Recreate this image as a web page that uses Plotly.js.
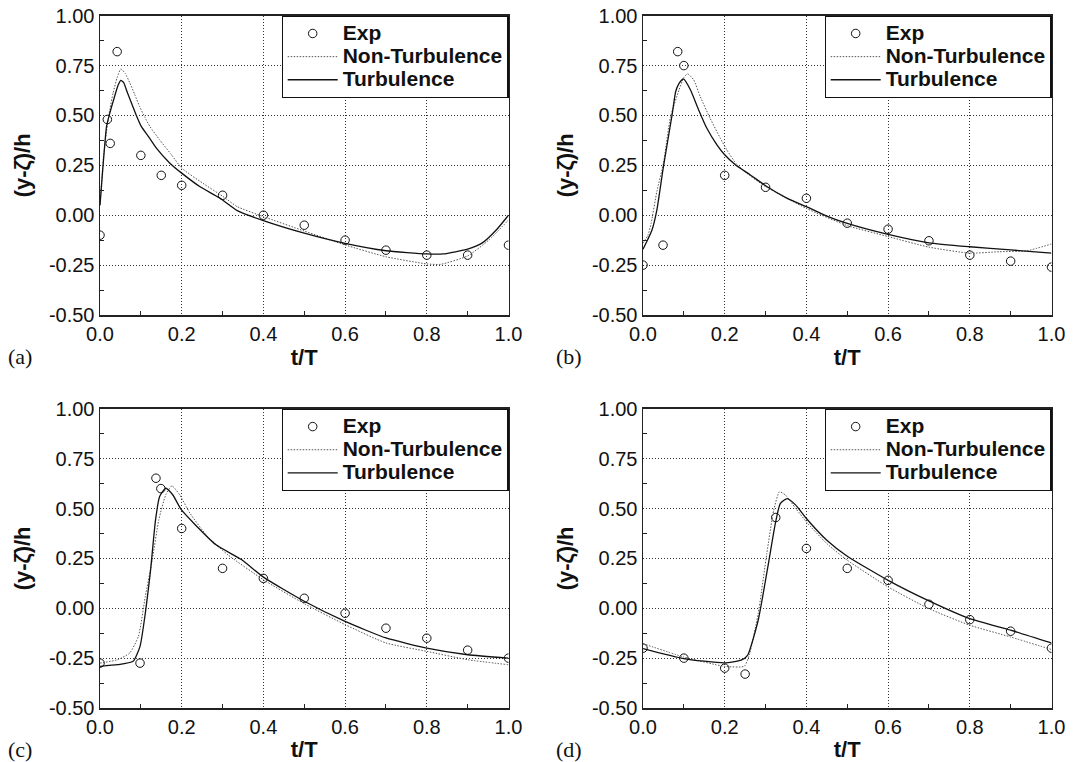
<!DOCTYPE html>
<html>
<head>
<meta charset="utf-8">
<script src="https://cdn.plot.ly/plotly-3.0.1.min.js"></script>
<style>
  html, body { margin: 0; padding: 0; background: #fff; }
  #chart { width: 1074px; height: 762px; }
</style>
</head>
<body>
<div id="chart"></div>
<script>
// ---------- data (t/T, (y - zeta_bar)/h) ----------
const seriesNames = ['Exp', 'Non-Turbulence', 'Turbulence'];
const panelLabels = ['(a)', '(b)', '(c)', '(d)'];
const xTickVals = [0, 0.2, 0.4, 0.6, 0.8, 1.0];
const xTickText = ['0.0', '0.2', '0.4', '0.6', '0.8', '1.0'];
const yTickVals = [-0.5, -0.25, 0, 0.25, 0.5, 0.75, 1.0];
const yTickText = ['-0.50', '-0.25', '0.00', '0.25', '0.50', '0.75', '1.00'];

// panel (a)
const expT_a = [0, 0.018, 0.025, 0.042, 0.1, 0.15, 0.2, 0.3, 0.4, 0.5, 0.6, 0.7, 0.8, 0.9, 1.0];
const expV_a = [-0.10, 0.48, 0.36, 0.82, 0.30, 0.20, 0.15, 0.10, 0.00, -0.05, -0.125, -0.175, -0.20, -0.20, -0.15];
const ntT_a = [0, 0.008, 0.016, 0.024, 0.032, 0.042, 0.051, 0.062, 0.073, 0.085, 0.097, 0.11, 0.122, 0.146, 0.175, 0.2, 0.252, 0.301, 0.336, 0.4, 0.5, 0.6, 0.7, 0.8, 0.834, 0.9, 0.952, 1.0];
const ntV_a = [0.05, 0.28, 0.42, 0.53, 0.612, 0.69, 0.733, 0.71, 0.663, 0.605, 0.545, 0.49, 0.445, 0.378, 0.303, 0.236, 0.16, 0.094, 0.043, -0.007, -0.079, -0.149, -0.208, -0.244, -0.246, -0.204, -0.124, -0.024];
const tuT_a = [0, 0.006, 0.016, 0.024, 0.035, 0.044, 0.051, 0.058, 0.066, 0.077, 0.089, 0.101, 0.12, 0.138, 0.171, 0.2, 0.244, 0.293, 0.336, 0.4, 0.5, 0.6, 0.7, 0.8, 0.84, 0.9, 0.935, 0.97, 1.0];
const tuV_a = [0.05, 0.21, 0.445, 0.512, 0.59, 0.65, 0.676, 0.665, 0.62, 0.562, 0.50, 0.445, 0.39, 0.336, 0.261, 0.211, 0.144, 0.086, 0.023, -0.027, -0.09, -0.141, -0.178, -0.194, -0.194, -0.17, -0.14, -0.074, 0.0];

// panel (b)
const expT_b = [0, 0.049, 0.085, 0.10, 0.2, 0.3, 0.4, 0.5, 0.6, 0.7, 0.8, 0.9, 1.0];
const expV_b = [-0.25, -0.15, 0.82, 0.75, 0.20, 0.14, 0.085, -0.04, -0.07, -0.128, -0.20, -0.23, -0.26];
const ntT_b = [0, 0.012, 0.02, 0.034, 0.05, 0.067, 0.088, 0.1, 0.109, 0.124, 0.14, 0.164, 0.189, 0.205, 0.23, 0.262, 0.303, 0.4, 0.5, 0.6, 0.7, 0.8, 0.872, 0.94, 1.0];
const ntV_b = [-0.14, -0.10, -0.04, 0.12, 0.26, 0.49, 0.627, 0.69, 0.709, 0.679, 0.595, 0.487, 0.387, 0.328, 0.253, 0.198, 0.14, 0.034, -0.052, -0.107, -0.16, -0.19, -0.183, -0.178, -0.144];
const tuT_b = [0, 0.012, 0.022, 0.034, 0.05, 0.071, 0.08, 0.088, 0.099, 0.116, 0.136, 0.156, 0.181, 0.2, 0.226, 0.262, 0.303, 0.352, 0.4, 0.45, 0.5, 0.6, 0.7, 0.8, 0.9, 1.0];
const tuV_b = [-0.17, -0.12, -0.074, 0.027, 0.244, 0.50, 0.62, 0.66, 0.683, 0.629, 0.529, 0.437, 0.353, 0.303, 0.253, 0.203, 0.144, 0.086, 0.043, -0.004, -0.041, -0.096, -0.138, -0.158, -0.174, -0.19];

// panel (c)
const expT_c = [0, 0.098, 0.137, 0.149, 0.2, 0.3, 0.4, 0.5, 0.6, 0.7, 0.8, 0.9, 1.0];
const expV_c = [-0.275, -0.275, 0.652, 0.60, 0.40, 0.20, 0.15, 0.05, -0.025, -0.10, -0.15, -0.21, -0.25];
const ntT_c = [0, 0.043, 0.073, 0.094, 0.111, 0.128, 0.144, 0.161, 0.176, 0.195, 0.22, 0.263, 0.313, 0.4, 0.5, 0.6, 0.7, 0.8, 0.9, 1.0];
const ntV_c = [-0.275, -0.258, -0.224, -0.141, 0.06, 0.243, 0.444, 0.569, 0.614, 0.569, 0.477, 0.36, 0.268, 0.143, 0.023, -0.082, -0.174, -0.216, -0.258, -0.283];
const tuT_c = [0, 0.043, 0.081, 0.098, 0.111, 0.123, 0.136, 0.146, 0.161, 0.178, 0.199, 0.233, 0.284, 0.347, 0.4, 0.5, 0.6, 0.7, 0.8, 0.9, 1.0];
const tuV_c = [-0.291, -0.283, -0.266, -0.191, -0.024, 0.176, 0.444, 0.56, 0.602, 0.569, 0.494, 0.419, 0.318, 0.243, 0.156, 0.035, -0.066, -0.149, -0.20, -0.233, -0.25];

// panel (d)
const expT_d = [0, 0.1, 0.2, 0.25, 0.325, 0.4, 0.5, 0.6, 0.7, 0.8, 0.9, 1.0];
const expV_d = [-0.20, -0.25, -0.30, -0.33, 0.455, 0.30, 0.20, 0.14, 0.02, -0.057, -0.115, -0.20];
const ntT_d = [0, 0.099, 0.199, 0.248, 0.261, 0.282, 0.303, 0.32, 0.334, 0.349, 0.374, 0.4, 0.45, 0.5, 0.6, 0.7, 0.8, 0.9, 1.0];
const ntV_d = [-0.177, -0.244, -0.291, -0.291, -0.228, -0.027, 0.274, 0.492, 0.584, 0.567, 0.50, 0.433, 0.324, 0.241, 0.107, -0.002, -0.085, -0.144, -0.207];
const tuT_d = [0, 0.099, 0.199, 0.24, 0.256, 0.282, 0.307, 0.324, 0.336, 0.353, 0.374, 0.4, 0.45, 0.5, 0.6, 0.7, 0.8, 0.9, 1.0];
const tuV_d = [-0.202, -0.252, -0.274, -0.26, -0.236, -0.06, 0.224, 0.425, 0.525, 0.55, 0.517, 0.45, 0.341, 0.261, 0.14, 0.037, -0.052, -0.11, -0.174];

// ---------- build ----------
const panels = [
  {exp: [expT_a, expV_a], nt: [ntT_a, ntV_a], tu: [tuT_a, tuV_a]},
  {exp: [expT_b, expV_b], nt: [ntT_b, ntV_b], tu: [tuT_b, tuV_b]},
  {exp: [expT_c, expV_c], nt: [ntT_c, ntV_c], tu: [tuT_c, tuV_c]},
  {exp: [expT_d, expV_d], nt: [ntT_d, ntV_d], tu: [tuT_d, tuV_d]}
];

const W = 1074, H = 762;
const colX = [[100, 508.5], [643, 1051.5]];
const rowY = [[15.7, 315], [408.8, 708]];

const font = 'Liberation Sans, Arial, Helvetica, sans-serif';
// legend label: larger bold text on a tighter row pitch
const legendName = s => '<span style="font-size:21px">' + s + '</span>';

const data = [];
const layout = {
  width: W, height: H,
  margin: {l: 0, r: 0, t: 0, b: 0},
  paper_bgcolor: '#fff', plot_bgcolor: '#fff',
  showlegend: true,
  font: {family: font, color: '#111'},
  annotations: [],
};

panels.forEach((p, i) => {
  const col = i % 2, row = Math.floor(i / 2);
  const suf = i === 0 ? '' : String(i + 1);
  const xa = 'x' + suf, ya = 'y' + suf;
  const legendId = 'legend' + suf;
  const xd = [colX[col][0] / W, colX[col][1] / W];
  const yd = [1 - rowY[row][1] / H, 1 - rowY[row][0] / H];

  data.push({
    x: p.exp[0], y: p.exp[1], xaxis: xa, yaxis: ya, legend: legendId,
    name: legendName(seriesNames[0]), mode: 'markers', type: 'scatter',
    marker: {symbol: 'circle-open', size: 8.5, color: '#111', line: {width: 1}}
  });
  data.push({
    x: p.nt[0], y: p.nt[1], xaxis: xa, yaxis: ya, legend: legendId,
    name: legendName(seriesNames[1]), mode: 'lines', type: 'scatter',
    line: {color: '#555', width: 1, dash: '1.5px,1.5px', shape: 'spline', smoothing: 0.5}
  });
  data.push({
    x: p.tu[0], y: p.tu[1], xaxis: xa, yaxis: ya, legend: legendId,
    name: legendName(seriesNames[2]), mode: 'lines', type: 'scatter',
    line: {color: '#111', width: 1.3, shape: 'spline', smoothing: 0.5}
  });

  const common = {
    showgrid: true, gridcolor: '#333', griddash: '1px,2px', gridwidth: 1,
    showline: true, linecolor: '#222', linewidth: 1.5, mirror: true,
    zeroline: false, ticks: '',
    tickfont: {family: font, size: 20, color: '#111'},
    fixedrange: true
  };
  layout['xaxis' + suf] = Object.assign({}, common, {
    domain: xd, anchor: ya, range: [0, 1],
    tickvals: xTickVals, ticktext: xTickText,
    minor: {tickvals: [0.1, 0.3, 0.5, 0.7, 0.9], ticks: 'inside', ticklen: 4, tickcolor: '#222', tickwidth: 1, showgrid: false},
    title: {text: 't/T', font: {family: font, size: 22, weight: 'bold', color: '#111'}, standoff: 6}
  });
  layout['yaxis' + suf] = Object.assign({}, common, {
    domain: yd, anchor: xa, range: [-0.5, 1.0],
    tickvals: yTickVals, ticktext: yTickText,
    minor: {tickvals: [-0.375, -0.125, 0.125, 0.375, 0.625, 0.875], ticks: 'inside', ticklen: 4, tickcolor: '#222', tickwidth: 1, showgrid: false},
    title: {text: '(y-\u03B6\u0304)/h', font: {family: font, size: 22, weight: 'bold', color: '#111'}, standoff: 12}
  });
  layout[legendId] = {
    x: xd[1], y: yd[1], xanchor: 'right', yanchor: 'top',
    bgcolor: '#fff', bordercolor: '#111', borderwidth: 1.2,
    font: {family: font, size: 15.5, weight: 'bold', color: '#111'},
    tracegroupgap: 0, itemwidth: 50
  };
  layout.annotations.push({
    text: panelLabels[i], xref: 'paper', yref: 'paper',
    x: (col === 0 ? 6 : 554) / W, y: 1 - (rowY[row][1] + 41) / H,
    xanchor: 'left', yanchor: 'middle', showarrow: false,
    font: {family: 'Liberation Serif, Times New Roman, serif', size: 22, color: '#111'}
  });
});

Plotly.newPlot('chart', data, layout, {displayModeBar: false, staticPlot: true});
</script>
</body>
</html>
